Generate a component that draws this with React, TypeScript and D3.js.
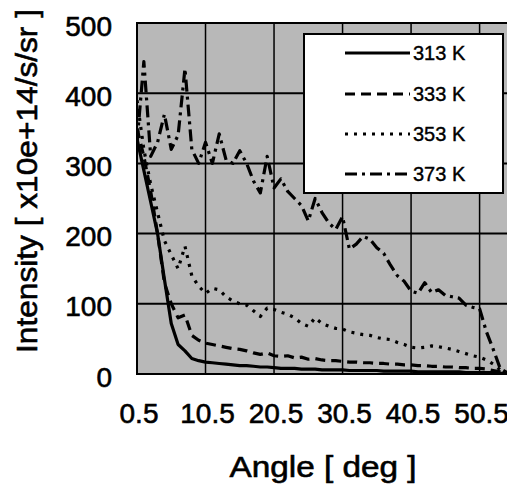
import React from "react";
import * as d3 from "d3";

const angles: number[] = d3.range(0.5, 55, 1);
const xTicks: number[] = [0.5, 10.5, 20.5, 30.5, 40.5, 50.5];
const yTicks: number[] = [0, 100, 200, 300, 400, 500];

const s313: number[] = [335, 290, 245, 200, 135, 72, 42, 33, 22, 19, 17, 16, 15, 14, 13, 12, 12, 11, 10, 10, 9, 8, 8, 8, 7, 7, 7, 6, 6, 6, 6, 5, 5, 5, 5, 5, 4, 4, 4, 4, 4, 3, 3, 3, 3, 3, 3, 3, 2, 2, 2, 2, 2, 1, 1];
const s333: number[] = [350, 310, 260, 200, 130, 100, 80, 84, 55, 48, 44, 42, 40, 38, 36, 35, 33, 30, 28, 30, 26, 25, 26, 23, 24, 21, 22, 20, 19, 19, 18, 17, 17, 16, 16, 15, 15, 14, 14, 13, 13, 12, 12, 11, 11, 10, 10, 9, 9, 8, 8, 7, 5, 3, 1];
const s353: number[] = [390, 320, 270, 230, 190, 170, 150, 182, 140, 125, 115, 122, 120, 110, 104, 100, 98, 90, 82, 94, 92, 88, 85, 80, 72, 68, 80, 72, 68, 65, 64, 60, 58, 56, 55, 52, 50, 49, 45, 42, 38, 37, 38, 40, 39, 37, 35, 32, 29, 26, 24, 20, 14, 6, 2];
const s373: number[] = [330, 445, 310, 330, 370, 320, 340, 435, 320, 300, 330, 300, 342, 305, 300, 318, 300, 275, 258, 310, 265, 278, 260, 250, 240, 218, 250, 230, 215, 206, 224, 178, 185, 196, 192, 180, 172, 155, 140, 132, 118, 115, 130, 116, 120, 112, 110, 108, 98, 95, 93, 60, 35, 8, 2];

const seriesNames: string[] = ["313 K", "333 K", "353 K", "373 K"];
const seriesValues: number[][] = [s313, s333, s353, s373];
const dashes: string[] = ["none", "10,6", "3,6", "12,5,3,5"];

export default function App() {
  const W = 507, H = 489;
  const left = 137, right = 507, top = 23, bottom = 374;
  const x = d3.scaleLinear().domain([0.5, 54.5]).range([left, right]);
  const y = d3.scaleLinear().domain([0, 500]).range([bottom, top]);
  const line = d3.line<[number, number]>().x(d => x(d[0])).y(d => y(d[1]));
  const font = "'Liberation Sans', Arial, sans-serif";
  const legendY = [53, 94, 134, 174];
  const heavy = { stroke: "#000", strokeWidth: 0.6 };
  return (
    <svg width={W} height={H} style={{ position: "absolute", left: 0, top: 0, background: "#fff" }} fontFamily={font}>
      <defs>
        <clipPath id="plotclip"><rect x={left} y={top} width={right - left} height={bottom - top} /></clipPath>
      </defs>
      <rect x={left} y={top} width={right - left + 5} height={bottom - top} fill="#b8b8b8" />
      {yTicks.slice(1, -1).map(t => (
        <line key={"hy" + t} x1={left} x2={W} y1={y(t)} y2={y(t)} stroke="#000" strokeWidth={2} />
      ))}
      {xTicks.slice(1).map(t => (
        <line key={"vx" + t} x1={x(t)} x2={x(t)} y1={top} y2={bottom} stroke="#000" strokeWidth={1.5} />
      ))}
      <rect x={left} y={top} width={right - left + 5} height={bottom - top} fill="none" stroke="#000" strokeWidth={2} />
      <g clipPath="url(#plotclip)">
        {seriesValues.map((vals, i) => (
          <path key={i} d={line(angles.map((a, j) => [a, vals[j]] as [number, number])) || ""}
            fill="none" stroke="#000" strokeWidth={3.2} strokeDasharray={dashes[i]} strokeLinejoin="round" />
        ))}
      </g>
      <rect x={304} y={34} width={199} height={159} fill="#fff" stroke="#000" strokeWidth={2} />
      {seriesNames.map((n, i) => (
        <g key={n}>
          <line x1={345} x2={410} y1={legendY[i]} y2={legendY[i]} stroke="#000" strokeWidth={3} strokeDasharray={dashes[i]} />
          <text x={413} y={legendY[i]} dominantBaseline="central" fontSize={20} {...heavy} strokeWidth={0.4}>{n}</text>
        </g>
      ))}
      {yTicks.map(t => (
        <text key={"yt" + t} x={112} y={y(t) + 3} textAnchor="end" dominantBaseline="central" fontSize={28} {...heavy}>{t}</text>
      ))}
      {xTicks.map(t => (
        <text key={"xt" + t} x={x(t) + 2} y={423} textAnchor="middle" fontSize={28} {...heavy}>{t}</text>
      ))}
      <text x={323} y={477} textAnchor="middle" fontSize={29} textLength={187} lengthAdjust="spacingAndGlyphs" {...heavy}>Angle [ deg ]</text>
      <text transform="translate(37,181) rotate(-90)" textAnchor="middle" fontSize={30} textLength={344} lengthAdjust="spacingAndGlyphs" {...heavy}>Intensity [ x10e+14/s/sr ]</text>
    </svg>
  );
}
